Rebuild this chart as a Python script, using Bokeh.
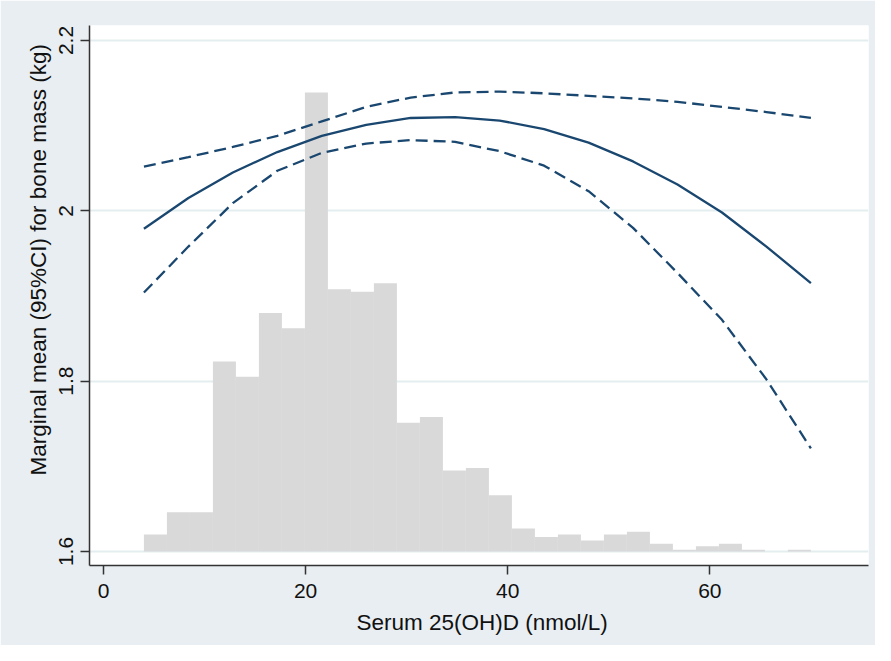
import numpy as np
from bokeh.plotting import figure
from bokeh.models import Range1d, FixedTicker, Title
from bokeh.embed import file_html
from bokeh.resources import INLINE

# ---- data ----
# histogram of Serum 25(OH)D, drawn as bars rising from the 1.6 baseline
hist_start = 4.0
hist_end = 70.0
hist_baseline = 1.6
hist_top = [1.620, 1.646, 1.646, 1.823, 1.805, 1.880, 1.862, 2.139, 1.908, 1.905,
            1.915, 1.751, 1.758, 1.695, 1.698, 1.666, 1.627, 1.617, 1.620, 1.613,
            1.620, 1.623, 1.609, 1.602, 1.606, 1.609, 1.602, 1.600, 1.602]

# marginal means and 95% CI
vitd = [4.0, 8.4, 12.8, 17.2, 21.6, 26.0, 30.4, 34.8, 39.2, 43.6, 48.0, 52.4,
        56.8, 61.2, 65.6, 70.0]
margin_mean = [1.979, 2.015, 2.045, 2.069, 2.088, 2.101, 2.109, 2.110, 2.106, 2.096,
               2.080, 2.058, 2.031, 1.998, 1.958, 1.915]
ci_upper = [2.052, 2.063, 2.075, 2.088, 2.105, 2.122, 2.133, 2.139, 2.140, 2.138,
            2.135, 2.132, 2.128, 2.122, 2.116, 2.109]
ci_lower = [1.904, 1.958, 2.009, 2.047, 2.068, 2.079, 2.083, 2.081, 2.070, 2.053,
            2.023, 1.980, 1.927, 1.872, 1.802, 1.721]

x_ticks = [0, 20, 40, 60]
y_ticks = [1.6, 1.8, 2.0, 2.2]
y_tick_labels = {1.6: "1.6", 1.8: "1.8", 2.0: "2", 2.2: "2.2"}
x_title = "Serum 25(OH)D (nmol/L)"
y_title = "Marginal mean (95%CI) for bone mass (kg)"

# ---- styling ----
BG = "#e8eef2"
GRID = "#e4edf0"
NAVY = "#1a476f"
BAR = "#d9d9d9"
AXIS = "#333333"
TEXT = "#111111"
FONT = "Liberation Sans"

p = figure(width=875, height=645, output_backend="svg", toolbar_location=None,
           x_range=Range1d(-1.386, 75.7), y_range=Range1d(1.5835, 2.2176),
           min_border_left=89, min_border_right=7, min_border_top=25,
           min_border_bottom=80)

p.background_fill_color = "white"
p.border_fill_color = BG
p.outline_line_color = None

edges = np.linspace(hist_start, hist_end, len(hist_top) + 1)
p.quad(left=edges[:-1], right=edges[1:], bottom=hist_baseline, top=hist_top,
       fill_color=BAR, line_color=None)

p.line(vitd, ci_upper, line_color=NAVY, line_width=2.3, line_dash="12 6")
p.line(vitd, ci_lower, line_color=NAVY, line_width=2.3, line_dash="12 6")
p.line(vitd, margin_mean, line_color=NAVY, line_width=2.3)

# grid
p.xgrid.grid_line_color = None
p.ygrid.grid_line_color = GRID
p.ygrid.grid_line_width = 2
p.ygrid.ticker = FixedTicker(ticks=y_ticks)

# axes
p.xaxis.ticker = FixedTicker(ticks=x_ticks)
p.yaxis.ticker = FixedTicker(ticks=y_ticks)
p.yaxis.major_label_overrides = y_tick_labels
p.yaxis.major_label_orientation = "vertical"

for ax in (p.xaxis[0], p.yaxis[0]):
    ax.axis_line_color = AXIS
    ax.axis_line_width = 1.5
    ax.major_tick_line_color = AXIS
    ax.major_tick_line_width = 1.5
    ax.major_tick_out = 9
    ax.major_tick_in = 0
    ax.minor_tick_line_color = None
    ax.major_label_text_font = FONT
    ax.major_label_text_font_size = "21px"
    ax.major_label_text_color = TEXT

p.xaxis.major_label_standoff = 9
p.yaxis.major_label_standoff = 7

# axis titles as side titles (allow offset along the axis)
p.add_layout(Title(text=x_title, align="left", offset=267, standoff=14,
                   text_font=FONT, text_font_size="22.5px",
                   text_font_style="normal", text_color=TEXT), "below")
p.add_layout(Title(text=y_title, align="left", offset=90, standoff=12,
                   text_font=FONT, text_font_size="22.5px",
                   text_font_style="normal", text_color=TEXT), "left")

open("out.html", "w").write(file_html(p, INLINE))
